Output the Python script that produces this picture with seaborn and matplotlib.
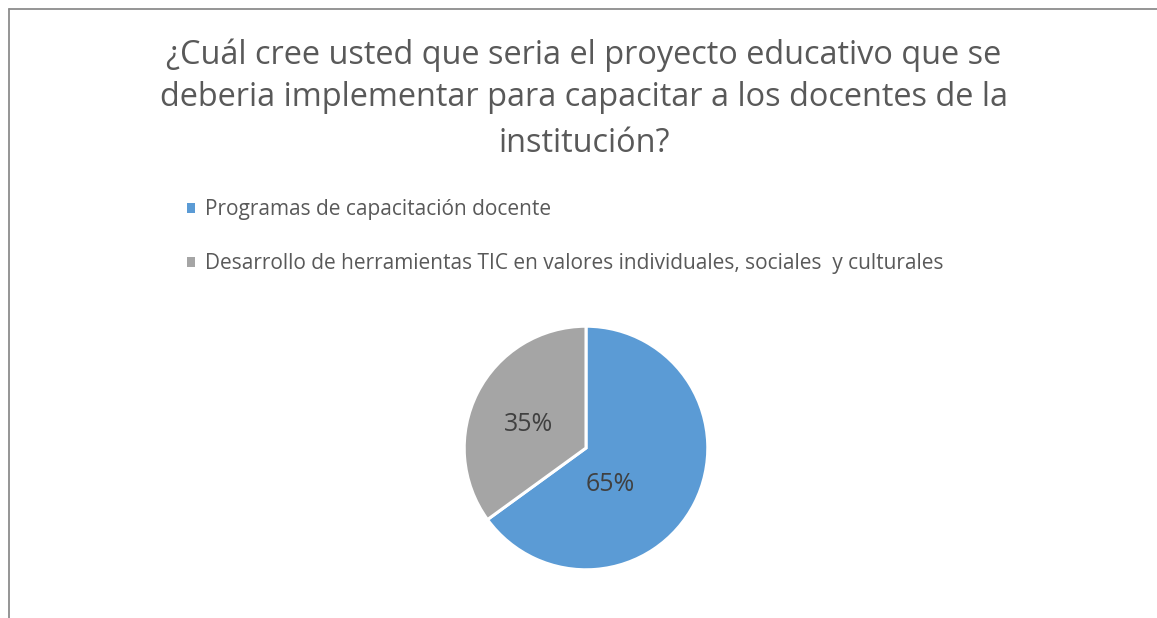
import matplotlib
matplotlib.use("Agg")
import matplotlib.pyplot as plt
import seaborn as sns
from matplotlib.lines import Line2D

# ---------- Data ----------
CATEGORIES = [
    "Programas de capacitación docente",
    "Desarrollo de herramientas TIC en valores individuales, sociales  y culturales",
]
VALUES = [65, 35]
COLORS = ["#5B9BD5", "#A5A5A5"]
TITLE_LINES = [
    "¿Cuál cree usted que seria el proyecto educativo que se",
    "deberia implementar para capacitar a los docentes de la",
    "institución?",
]

sns.set_theme(style="white")
plt.rcParams["font.family"] = ["Open Sans", "DejaVu Sans"]

W, H = 1157, 618
fig = plt.figure(figsize=(W / 100, H / 100), dpi=100)
fig.patch.set_facecolor("white")

# ---------- Pie ----------
cx, cy, r = 586, 448, 123
ax = fig.add_axes([(cx - r) / W, (H - cy - r) / H, 2 * r / W, 2 * r / H])
wedges, texts, autotexts = ax.pie(
    VALUES,
    colors=COLORS,
    startangle=90,
    counterclock=False,
    autopct="%d%%",
    pctdistance=0.53,
    wedgeprops=dict(edgecolor="white", linewidth=2.2),
    textprops=dict(color="#404040", fontsize=18),
)
# Excel places the labels a bit differently than matplotlib
autotexts[0].set_position((0.2, -0.30))
autotexts[1].set_position((-0.47, 0.19))
ax.set_xlim(-1.01, 1.01)
ax.set_ylim(-1.01, 1.01)
ax.set_aspect("equal")
ax.axis("off")

# ---------- Title ----------
title_y = [55, 98, 143]
for line, y in zip(TITLE_LINES, title_y):
    fig.text(584 / W, 1 - y / H, line, ha="center", va="center",
             fontsize=23.4, color="#595959")

# ---------- Legend ----------
fig.legend(
    wedges, CATEGORIES,
    loc="upper left", bbox_to_anchor=(187 / W, 1 - 199 / H),
    frameon=False, fontsize=15, labelcolor="#595959",
    handlelength=0.36, handleheight=0.36, handletextpad=0.5,
    labelspacing=1.6, borderpad=0, borderaxespad=0,
)
for h in fig.legends[0].legend_handles:
    h.set_edgecolor("none")
    h.set_linewidth(0)

# ---------- Border ----------
bc = "#8C8C8C"
fig.add_artist(Line2D([9 / W, 9 / W], [0, 1 - 9 / H], color=bc, lw=1.3,
                      transform=fig.transFigure))
fig.add_artist(Line2D([9 / W, 1], [1 - 9 / H, 1 - 9 / H], color=bc, lw=1.3,
                      transform=fig.transFigure))

fig.savefig("out.png", dpi=100, facecolor="white")
